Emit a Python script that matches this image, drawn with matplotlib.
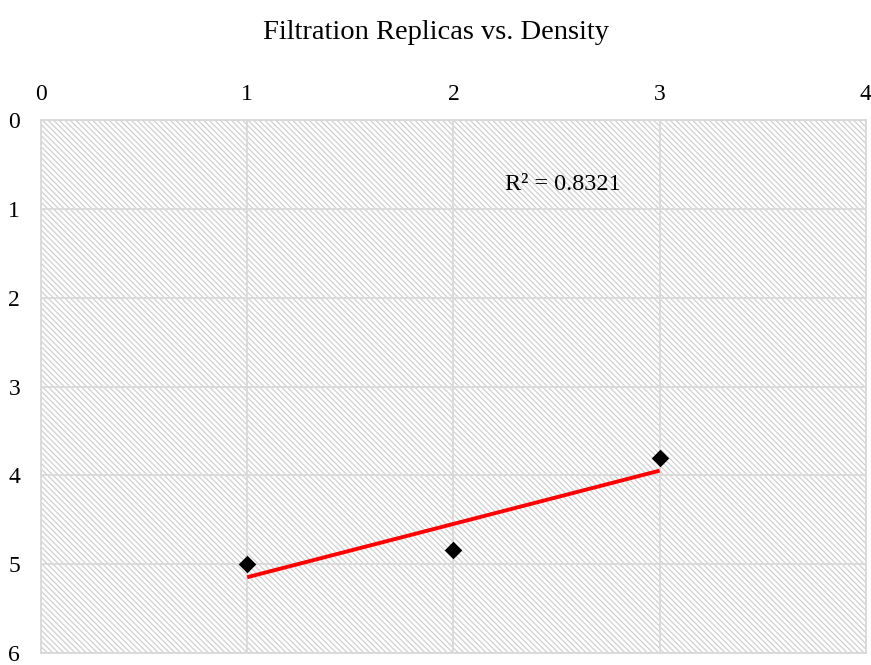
import numpy as np
import matplotlib
matplotlib.use("Agg")
import matplotlib.pyplot as plt
from matplotlib.patches import Rectangle

replicas = [1, 2, 3]
density = [5.0, 4.84, 3.8]
r2_text = "R² = 0.8321"
title = "Filtration Replicas vs. Density"

plt.rcParams['font.family'] = ['Liberation Serif', 'DejaVu Serif']
plt.rcParams['hatch.linewidth'] = 0.9
plt.rcParams['hatch.color'] = '#d0d0d0'

fig = plt.figure(figsize=(8.71, 6.65), dpi=100)
ax = fig.add_axes([0.0471, 0.018, 0.947, 0.8015])

# hatched plot area
bg = Rectangle((0, 0), 1, 1, transform=ax.transAxes, facecolor='white',
               edgecolor='#d0d0d0', hatch='\\\\\\\\\\\\', linewidth=0, zorder=0)
ax.add_patch(bg)

ax.set_xlim(0, 4)
ax.set_ylim(6, 0)
ax.set_xticks(range(0, 5))
ax.set_yticks(range(0, 7))
ax.xaxis.tick_top()
ax.tick_params(axis='both', length=0, labelsize=17, colors='black')
ax.tick_params(axis='x', pad=11)
ax.tick_params(axis='y', pad=15)
ax.grid(True, color='#d9d9d9', linewidth=1.3, zorder=1)
ax.set_axisbelow(True)
for s in ax.spines.values():
    s.set_color('#d9d9d9')
    s.set_linewidth(1.3)

# trend line
coef = np.polyfit(replicas, density, 1)
xs = np.array([replicas[0], replicas[-1]])
ax.plot(xs, np.polyval(coef, xs), color='#ff0000', linewidth=2.8, zorder=3, solid_capstyle='butt')

ax.scatter(replicas, density, marker='D', s=80, color='black', zorder=4, linewidths=0)

ax.text(2.53, 0.73, r2_text, fontsize=17.5, ha='center', va='center', zorder=5)

fig.suptitle(title, y=0.97, fontsize=20.5)

fig.savefig('out.png', dpi=100)
